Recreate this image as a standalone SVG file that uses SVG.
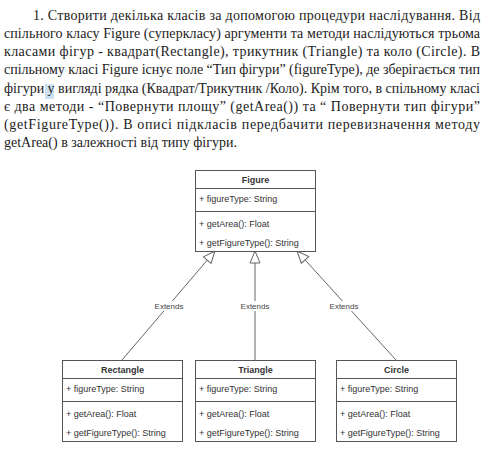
<svg xmlns="http://www.w3.org/2000/svg" width="500" height="453" viewBox="0 0 500 453">
<style>
.para{font-family:"Liberation Serif","Times New Roman",serif;font-size:14px;fill:#222}
.box{fill:#fff;stroke:#555;stroke-width:1}
.div{stroke:#555;stroke-width:1}
.title{font-family:"Liberation Sans",Arial,sans-serif;font-size:9px;font-weight:bold;fill:#333;text-anchor:middle}
.mem{font-family:"Liberation Sans",Arial,sans-serif;font-size:9px;fill:#333}
.edge{stroke:#666;stroke-width:1;fill:none}
.lbl{font-family:"Liberation Sans",Arial,sans-serif;font-size:8px;fill:#444;text-anchor:middle}
.lblbg{fill:#fff}
</style>
<defs>
<marker id="tri" viewBox="0 0 14 12" refX="13" refY="6" markerWidth="14" markerHeight="12" markerUnits="userSpaceOnUse" orient="auto">
<path d="M1,1 L13,6 L1,11 Z" fill="#fff" stroke="#666" stroke-width="1"/>
</marker>
</defs>
<rect width="500" height="453" fill="#fff"/>
<rect x="45" y="84" width="9" height="15" fill="#cfe2f5"/>
<g id="text">
<text class="para" x="33" y="20" textLength="447" lengthAdjust="spacing">1.  Створити декілька класів за допомогою процедури наслідування. Від</text>
<text class="para" x="4" y="38" textLength="476" lengthAdjust="spacing">спільного класу Figure (суперкласу) аргументи та методи наслідуються трьома</text>
<text class="para" x="4" y="56" textLength="476" lengthAdjust="spacing">класами фігур - квадрат(Rectangle), трикутник (Triangle) та коло (Circle). В</text>
<text class="para" x="4" y="74" textLength="476" lengthAdjust="spacing">спільному класі Figure існує поле “Тип фігури” (figureType), де зберігається тип</text>
<text class="para" x="4" y="93" textLength="476" lengthAdjust="spacing">фігури у вигляді рядка (Квадрат/Трикутник /Коло). Крім того, в спільному класі</text>
<text class="para" x="4" y="111" textLength="476" lengthAdjust="spacing">є два методи - “Повернути площу” (getArea()) та “ Повернути тип фігури”</text>
<text class="para" x="4" y="129" textLength="476" lengthAdjust="spacing">(getFigureType()). В описі підкласів передбачити перевизначення методу</text>
<text class="para" x="4" y="147">getArea() в залежності від типу фігури.</text>
</g>
<g id="connectors">
<line class="edge" x1="122" y1="360" x2="215" y2="251" marker-end="url(#tri)"/>
<line class="edge" x1="255" y1="360" x2="255" y2="251" marker-end="url(#tri)"/>
<line class="edge" x1="396" y1="360" x2="297" y2="251" marker-end="url(#tri)"/>
<rect class="lblbg" x="154" y="301" width="31" height="10"/>
<text class="lbl" x="169" y="309">Extends</text>
<rect class="lblbg" x="240" y="301" width="31" height="10"/>
<text class="lbl" x="255" y="309">Extends</text>
<rect class="lblbg" x="329" y="301" width="31" height="10"/>
<text class="lbl" x="344" y="309">Extends</text>
</g>
<g id="Figure">
<rect class="box" x="195.5" y="170.5" width="120" height="81"/>
<line class="div" x1="195.5" y1="188.5" x2="315.5" y2="188.5"/>
<line class="div" x1="195.5" y1="211.5" x2="315.5" y2="211.5"/>
<text class="title" x="255.5" y="183">Figure</text>
<text class="mem" x="199" y="202">+ figureType: String</text>
<text class="mem" x="199" y="227">+ getArea(): Float</text>
<text class="mem" x="199" y="246">+ getFigureType(): String</text>
</g>
<g id="Rectangle">
<rect class="box" x="62.5" y="360.5" width="120" height="81"/>
<line class="div" x1="62.5" y1="378.5" x2="182.5" y2="378.5"/>
<line class="div" x1="62.5" y1="401.5" x2="182.5" y2="401.5"/>
<text class="title" x="122.5" y="373">Rectangle</text>
<text class="mem" x="66" y="392">+ figureType: String</text>
<text class="mem" x="66" y="417">+ getArea(): Float</text>
<text class="mem" x="66" y="436">+ getFigureType(): String</text>
</g>
<g id="Triangle">
<rect class="box" x="195.5" y="360.5" width="120" height="81"/>
<line class="div" x1="195.5" y1="378.5" x2="315.5" y2="378.5"/>
<line class="div" x1="195.5" y1="401.5" x2="315.5" y2="401.5"/>
<text class="title" x="255.5" y="373">Triangle</text>
<text class="mem" x="199" y="392">+ figureType: String</text>
<text class="mem" x="199" y="417">+ getArea(): Float</text>
<text class="mem" x="199" y="436">+ getFigureType(): String</text>
</g>
<g id="Circle">
<rect class="box" x="336.5" y="360.5" width="120" height="81"/>
<line class="div" x1="336.5" y1="378.5" x2="456.5" y2="378.5"/>
<line class="div" x1="336.5" y1="401.5" x2="456.5" y2="401.5"/>
<text class="title" x="396.5" y="373">Circle</text>
<text class="mem" x="340" y="392">+ figureType: String</text>
<text class="mem" x="340" y="417">+ getArea(): Float</text>
<text class="mem" x="340" y="436">+ getFigureType(): String</text>
</g>
</svg>
